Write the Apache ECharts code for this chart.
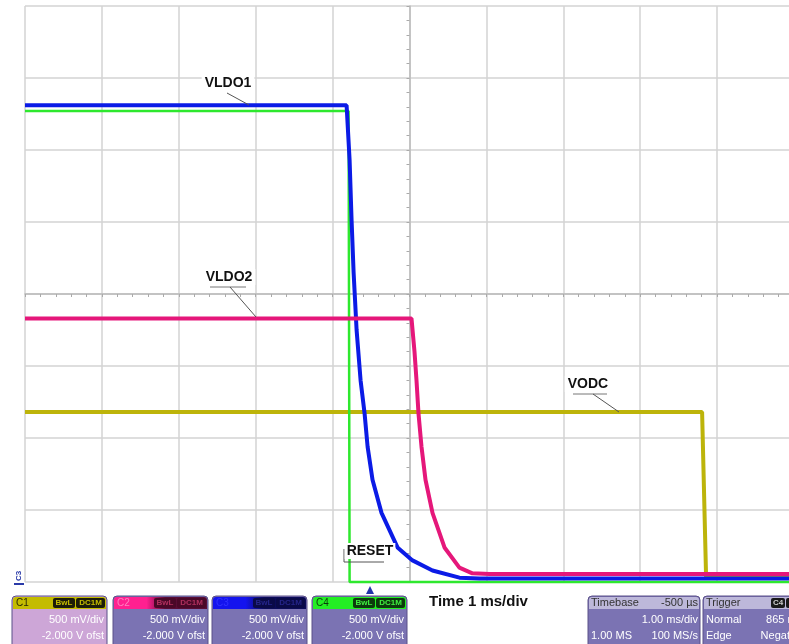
<!DOCTYPE html>
<html>
<head>
<meta charset="utf-8">
<script src="https://cdn.jsdelivr.net/npm/echarts@6/dist/echarts.min.js"></script>
<style>html,body{margin:0;padding:0;background:#fff;}#c{width:789px;height:644px;}</style>
</head>
<body>
<div id="c"></div>
<script>
// ---- data (time in ms relative to screen centre, voltage in V) ----
var vodcT  = [-5.0, 3.805, 3.857, 5.0];
var vodcV  = [1.18, 1.18, 0.03, 0.03];

var resetT = [-5.0, -0.792, -0.779, 5.0];
var resetV = [3.27, 3.27, 0.0, 0.0];

var vldo1T = [-5.0, -0.818, -0.779, -0.753, -0.727, -0.688, -0.636, -0.584, -0.545, -0.481, -0.364, -0.156, 0.039, 0.299, 0.649, 0.909, 5.0];
var vldo1V = [3.31, 3.31, 2.93, 2.51, 2.15, 1.75, 1.40, 1.17, 0.94, 0.71, 0.48, 0.24, 0.15, 0.08, 0.03, 0.025, 0.025];

var vldo2T = [-5.0, 0.026, 0.065, 0.091, 0.117, 0.156, 0.208, 0.299, 0.455, 0.649, 0.818, 1.039, 5.0];
var vldo2V = [1.83, 1.83, 1.60, 1.40, 1.17, 0.94, 0.71, 0.48, 0.24, 0.10, 0.06, 0.055, 0.055];

var channelNames = ['C1', 'C2', 'C3', 'C4'];
var channelScale = ['500 mV/div', '500 mV/div', '500 mV/div', '500 mV/div'];
var channelOffset = ['-2.000 V ofst', '-2.000 V ofst', '-2.000 V ofst', '-2.000 V ofst'];

function zip(t, v) { return t.map(function (x, i) { return [x, v[i]]; }); }

var narrow = '"Liberation Sans Narrow", "Liberation Sans", Arial, sans-serif';
var sans = '"Liberation Sans", Arial, sans-serif';

function chanBox(x, idx, headL, headR, body, tagBg, tagFg, lblColor) {
  var els = [];
  els.push({type:'rect', shape:{x:x, y:596, width:95, height:52, r:4}, style:{fill:body, stroke:'#5b5088', lineWidth:1}});
  els.push({type:'rect', shape:{x:x+1, y:597, width:93, height:12, r:[3,3,0,0]},
    style:{fill:new echarts.graphic.LinearGradient(0,0,1,0,[{offset:0,color:headL},{offset:0.35,color:headL},{offset:0.55,color:headR},{offset:1,color:headR}])}});
  els.push({type:'text', x:x+4, y:603, style:{text:channelNames[idx], fill:lblColor, font:'10px ' + narrow, verticalAlign:'middle'}});
  els.push({type:'rect', shape:{x:x+41, y:598, width:22, height:10, r:2}, style:{fill:tagBg}});
  els.push({type:'text', x:x+52, y:603, style:{text:'BwL', fill:tagFg, font:'bold 8px ' + narrow, align:'center', verticalAlign:'middle'}});
  els.push({type:'rect', shape:{x:x+64, y:598, width:29, height:10, r:2}, style:{fill:tagBg}});
  els.push({type:'text', x:x+78.5, y:603, style:{text:'DC1M', fill:tagFg, font:'bold 8px ' + narrow, align:'center', verticalAlign:'middle'}});
  els.push({type:'text', x:x+92, y:620, style:{text:channelScale[idx], fill:'#ffffff', font:'11px ' + narrow, align:'right', verticalAlign:'middle'}});
  els.push({type:'text', x:x+92, y:636, style:{text:channelOffset[idx], fill:'#ffffff', font:'11px ' + narrow, align:'right', verticalAlign:'middle'}});
  return els;
}

var gridColor = '#d3d3d3';
var labelFont = 'bold 14px ' + sans;

var graphics = [];
// trace labels
graphics.push({type:'line', shape:{x1:227, y1:93, x2:249, y2:105}, style:{stroke:'#555', lineWidth:1}});
graphics.push({type:'text', x:228, y:83, style:{text:'VLDO1', font:labelFont, fill:'#111', align:'center', verticalAlign:'middle', backgroundColor:'#fff', padding:[1,3]}});
graphics.push({type:'line', shape:{x1:210, y1:287, x2:246, y2:287}, style:{stroke:'#777', lineWidth:1}});
graphics.push({type:'line', shape:{x1:230, y1:287, x2:256, y2:317}, style:{stroke:'#555', lineWidth:1}});
graphics.push({type:'text', x:229, y:277, style:{text:'VLDO2', font:labelFont, fill:'#111', align:'center', verticalAlign:'middle', backgroundColor:'#fff', padding:[1,3]}});
graphics.push({type:'line', shape:{x1:573, y1:394, x2:607, y2:394}, style:{stroke:'#777', lineWidth:1}});
graphics.push({type:'line', shape:{x1:593, y1:394, x2:619, y2:412}, style:{stroke:'#555', lineWidth:1}});
graphics.push({type:'text', x:588, y:384, style:{text:'VODC', font:labelFont, fill:'#111', align:'center', verticalAlign:'middle', backgroundColor:'#fff', padding:[1,3]}});
graphics.push({type:'polyline', shape:{points:[[344,549],[344,562],[384,562]]}, style:{stroke:'#555', lineWidth:1, fill:null}});
graphics.push({type:'text', x:370, y:551, style:{text:'RESET', font:labelFont, fill:'#111', align:'center', verticalAlign:'middle', backgroundColor:'#fff', padding:[1,2]}});

// left channel marker and trigger marker
graphics.push({type:'text', x:19, y:576, rotation:Math.PI/2, style:{text:'C3', font:'bold 8px ' + sans, fill:'#2a3aa8', align:'center', verticalAlign:'middle'}});
graphics.push({type:'rect', shape:{x:14, y:583, width:10, height:2}, style:{fill:'#2a3aa8'}});
graphics.push({type:'polygon', shape:{points:[[366,594],[374,594],[370,586]]}, style:{fill:'#2233aa'}});

// channel boxes
graphics = graphics.concat(chanBox(12, 0, '#c4bc00', '#c4bc00', '#cda6d7', '#1c1c08', '#c4bc00', '#2a2a00'));
graphics = graphics.concat(chanBox(113, 1, '#ff2090', '#5a0c36', '#7b73b3', '#4a0828', '#b0305e', '#ff80c0'));
graphics = graphics.concat(chanBox(212, 2, '#1414ee', '#0c0c5a', '#7b73b3', '#0a0a48', '#25258a', '#3030ff'));
graphics = graphics.concat(chanBox(312, 3, '#24ee24', '#24ee24', '#7b73b3', '#0c3a0c', '#40ee40', '#0a3a0a'));

// time/div text
graphics.push({type:'text', x:429, y:602, style:{text:'Time 1 ms/div', font:'bold 15px ' + sans, fill:'#111', verticalAlign:'middle'}});

// timebase box
graphics.push({type:'rect', shape:{x:588, y:596, width:112, height:52, r:4}, style:{fill:'#7b73b3', stroke:'#5b5088', lineWidth:1}});
graphics.push({type:'rect', shape:{x:589, y:597, width:110, height:12, r:[3,3,0,0]}, style:{fill:'#bdb8da'}});
graphics.push({type:'text', x:591, y:603, style:{text:'Timebase', fill:'#333', font:'11px ' + narrow, verticalAlign:'middle'}});
graphics.push({type:'text', x:698, y:603, style:{text:'-500 \u00b5s', fill:'#333', font:'11px ' + narrow, align:'right', verticalAlign:'middle'}});
graphics.push({type:'text', x:698, y:620, style:{text:'1.00 ms/div', fill:'#fff', font:'11px ' + narrow, align:'right', verticalAlign:'middle'}});
graphics.push({type:'text', x:591, y:636, style:{text:'1.00 MS', fill:'#fff', font:'11px ' + narrow, verticalAlign:'middle'}});
graphics.push({type:'text', x:698, y:636, style:{text:'100 MS/s', fill:'#fff', font:'11px ' + narrow, align:'right', verticalAlign:'middle'}});

// trigger box
graphics.push({type:'rect', shape:{x:703, y:596, width:100, height:52, r:4}, style:{fill:'#7b73b3', stroke:'#5b5088', lineWidth:1}});
graphics.push({type:'rect', shape:{x:704, y:597, width:98, height:12, r:[3,3,0,0]}, style:{fill:'#bdb8da'}});
graphics.push({type:'text', x:706, y:603, style:{text:'Trigger', fill:'#333', font:'11px ' + narrow, verticalAlign:'middle'}});
graphics.push({type:'rect', shape:{x:771, y:598, width:14, height:10, r:2}, style:{fill:'#1a1a1a'}});
graphics.push({type:'text', x:778, y:603, style:{text:'C4', fill:'#ccc', font:'bold 8px ' + narrow, align:'center', verticalAlign:'middle'}});
graphics.push({type:'rect', shape:{x:786, y:598, width:14, height:10, r:2}, style:{fill:'#1a1a1a'}});
graphics.push({type:'text', x:706, y:620, style:{text:'Normal', fill:'#fff', font:'11px ' + narrow, verticalAlign:'middle'}});
graphics.push({type:'text', x:804, y:620, style:{text:'865 mV', fill:'#fff', font:'11px ' + narrow, align:'right', verticalAlign:'middle'}});
graphics.push({type:'text', x:706, y:636, style:{text:'Edge', fill:'#fff', font:'11px ' + narrow, verticalAlign:'middle'}});
graphics.push({type:'text', x:804, y:636, style:{text:'Negative', fill:'#fff', font:'11px ' + narrow, align:'right', verticalAlign:'middle'}});

graphics.forEach(function (g) { g.z = 100; });

var chart = echarts.init(document.getElementById('c'), null, {renderer:'canvas'});
chart.setOption({
  backgroundColor:'#ffffff',
  animation:false,
  grid:{left:25, top:6, width:769, height:576, containLabel:false, outerBoundsMode:'none'},
  xAxis:[{
    type:'value', min:-5, max:5, interval:1,
    axisLabel:{show:false},
    splitLine:{show:true, lineStyle:{color:gridColor, width:1.5}},
    axisLine:{show:true, onZero:true, onZeroAxisIndex:1, lineStyle:{color:'#bbbbbb', width:1.5}},
    axisTick:{show:true, length:3, lineStyle:{color:'#aaaaaa'}},
    minorTick:{show:true, splitNumber:5, length:3, lineStyle:{color:'#aaaaaa'}}
  }],
  yAxis:[{
    type:'value', min:0, max:4, interval:0.5,
    axisLabel:{show:false},
    splitLine:{show:true, lineStyle:{color:gridColor, width:1.5}},
    axisLine:{show:true, onZero:true, lineStyle:{color:'#bbbbbb', width:1.5}},
    axisTick:{show:true, length:3, lineStyle:{color:'#aaaaaa'}},
    minorTick:{show:true, splitNumber:5, length:3, lineStyle:{color:'#aaaaaa'}}
  },{
    type:'value', min:-2, max:2, show:false
  }],
  series:[
    {name:'VODC', type:'line', data:zip(vodcT, vodcV), showSymbol:false, silent:true, lineStyle:{color:'#bdb40a', width:4}, z:2},
    {name:'RESET', type:'line', data:zip(resetT, resetV), showSymbol:false, silent:true, clip:false, lineStyle:{color:'#2ee82e', width:2.5}, z:3},
    {name:'VLDO1', type:'line', data:zip(vldo1T, vldo1V), showSymbol:false, silent:true, lineStyle:{color:'#0b1be6', width:4}, z:4},
    {name:'VLDO2', type:'line', data:zip(vldo2T, vldo2V), showSymbol:false, silent:true, lineStyle:{color:'#e5177a', width:4}, z:5}
  ],
  graphic:{elements:graphics}
});
</script>
</body>
</html>
